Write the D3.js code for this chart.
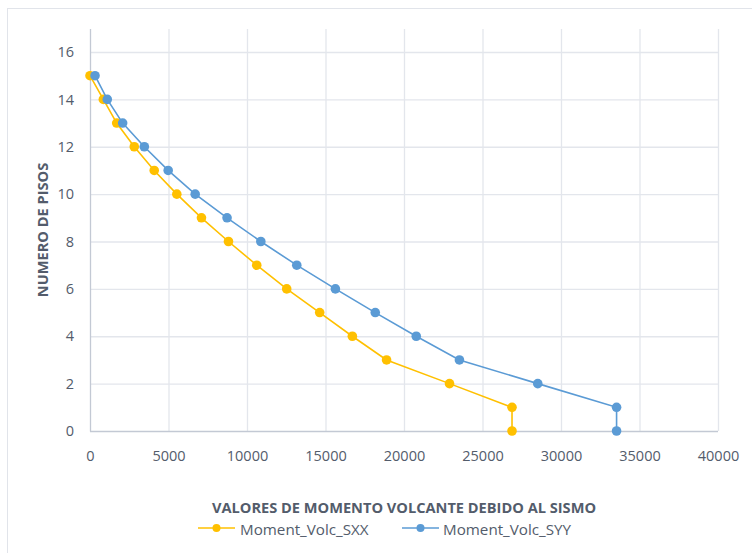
<!DOCTYPE html>
<html><head><meta charset="utf-8">
<script src="https://cdn.jsdelivr.net/npm/d3@7"></script>
<style>
html,body{margin:0;padding:0;background:#fff;}
svg{display:block;}
text{font-family:"Open Sans","Liberation Sans",sans-serif;}
</style></head>
<body><svg id="c" width="752" height="553"></svg>
<script>
const floors = [15,14,13,12,11,10,9,8,7,6,5,4,3,2,1,0];
const sxx = [0,850,1700,2820,4090,5530,7100,8820,10620,12530,14630,16710,18890,22900,26880,26880];
const syy = [320,1100,2080,3460,4980,6700,8730,10880,13170,15630,18170,20780,23530,28520,33540,33540];
const xTicks = [0,5000,10000,15000,20000,25000,30000,35000,40000];
const yTicks = [0,2,4,6,8,10,12,14,16];
const seriesNames = ["Moment_Volc_SXX","Moment_Volc_SYY"];
const colors = ["#FFC000","#5B9BD5"];
const xTitle = "VALORES DE MOMENTO VOLCANTE DEBIDO AL SISMO";
const yTitle = "NUMERO DE PISOS";

(function(){
const svg = d3.select("#c");
const textCol = "#535c6b";
svg.append("rect").attr("x",7.5).attr("y",8.5).attr("width",760).attr("height",560)
  .attr("fill","none").attr("stroke","#e1e4ea").attr("stroke-width",1);

const x = d3.scaleLinear().domain([0,40000]).range([90,718]);
const y = d3.scaleLinear().domain([0,16]).range([431,52]);
const plotTop = 29;

const g = svg.append("g");
g.selectAll(".vg").data(xTicks.slice(1)).join("line")
  .attr("x1",d=>x(d)+0.5).attr("x2",d=>x(d)+0.5).attr("y1",plotTop).attr("y2",y(0))
  .attr("stroke","#e3e6ec").attr("stroke-width",1.3);
g.selectAll(".hg").data(yTicks.slice(1)).join("line")
  .attr("x1",x(0)).attr("x2",x(40000)).attr("y1",d=>y(d)+0.5).attr("y2",d=>y(d)+0.5)
  .attr("stroke","#e3e6ec").attr("stroke-width",1.3);
g.append("line").attr("x1",x(0)+0.5).attr("x2",x(0)+0.5).attr("y1",plotTop).attr("y2",y(0)+0.5)
  .attr("stroke","#c3c9d4").attr("stroke-width",1.3);
g.append("line").attr("x1",x(0)).attr("x2",x(40000)).attr("y1",y(0)+0.5).attr("y2",y(0)+0.5)
  .attr("stroke","#c3c9d4").attr("stroke-width",1.3);

const xAxis = d3.axisBottom(x).tickValues(xTicks).tickSize(0).tickPadding(0).tickFormat(d3.format("d"));
const gx = svg.append("g").attr("transform",`translate(0,${y(0)+19.5})`).call(xAxis);
gx.select(".domain").remove();
gx.selectAll("text").attr("fill",textCol).attr("font-size",14.5).attr("dy","0.71em").attr("y",0)
  .style("font-family",'"Open Sans",sans-serif');
const yAxis = d3.axisLeft(y).tickValues(yTicks).tickSize(0).tickPadding(0);
const gy = svg.append("g").attr("transform",`translate(74,0)`).call(yAxis);
gy.select(".domain").remove();
gy.selectAll("text").attr("fill",textCol).attr("font-size",14.5).attr("x",0)
  .style("font-family",'"Open Sans",sans-serif');

svg.append("text").attr("x",(x(0)+x(40000))/2).attr("y",513).attr("text-anchor","middle")
  .attr("font-size",14.6).attr("font-weight","bold").attr("fill",textCol).text(xTitle);
svg.append("text").attr("transform",`translate(47.5,230) rotate(-90)`).attr("text-anchor","middle")
  .attr("font-size",14.6).attr("font-weight","bold").attr("fill",textCol).text(yTitle);

const series = [sxx, syy];
const line = d3.line().x(d=>x(d[0])).y(d=>y(d[1]));
series.forEach((vals,i)=>{
  const pts = vals.map((v,j)=>[v,floors[j]]);
  svg.append("path").datum(pts).attr("d",line).attr("fill","none")
    .attr("stroke",colors[i]).attr("stroke-width",1.6);
  svg.append("g").selectAll("circle").data(pts).join("circle")
    .attr("cx",d=>x(d[0])).attr("cy",d=>y(d[1])).attr("r",4.8).attr("fill",colors[i]);
});

const leg = [{x0:198,tx:240},{x0:402,tx:443}];
seriesNames.forEach((n,i)=>{
  const lg = svg.append("g");
  lg.append("line").attr("x1",leg[i].x0).attr("x2",leg[i].x0+37).attr("y1",528).attr("y2",528)
    .attr("stroke",colors[i]).attr("stroke-width",1.6);
  lg.append("circle").attr("cx",leg[i].x0+18.5).attr("cy",528).attr("r",4).attr("fill",colors[i]);
  lg.append("text").attr("x",leg[i].tx).attr("y",534.5).attr("font-size",15.2).attr("fill",textCol).text(n);
});
})();
</script></body></html>
